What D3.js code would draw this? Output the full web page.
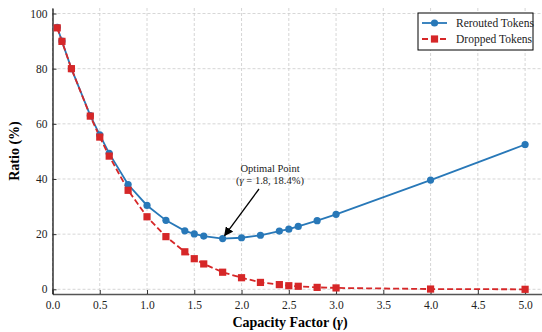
<!DOCTYPE html>
<html><head><meta charset="utf-8">
<script src="https://cdn.jsdelivr.net/npm/d3@7"></script>
<style>body{margin:0;background:#fff;}svg{display:block;} text{font-family:"Liberation Serif","Times New Roman",serif;}</style>
</head><body>
<svg id="c" width="542" height="332"></svg>
<script>
const capacity = [0.05,0.1,0.2,0.4,0.5,0.6,0.8,1.0,1.2,1.4,1.5,1.6,1.8,2.0,2.2,2.4,2.5,2.6,2.8,3.0,4.0,5.0];
const rerouted = [95,90,80,63,56,49.3,38.0,30.4,25.0,21.2,20.1,19.3,18.4,18.7,19.6,21.1,21.8,22.8,24.9,27.2,39.6,52.5];
const dropped  = [94.8,89.9,80,62.8,55.2,48.3,35.9,26.3,19.1,13.6,11.1,9.2,6.2,4.2,2.5,1.7,1.3,1.1,0.7,0.5,0.1,0.0];
const xTicks = [0,0.5,1,1.5,2,2.5,3,3.5,4,4.5,5];
const yTicks = [0,20,40,60,80,100];
const seriesNames = ["Rerouted Tokens","Dropped Tokens"];

const svg = d3.select("#c");
const font = '"Liberation Serif","Times New Roman",serif';
const L=52.5, R=544, T=8, B=294;
const x = d3.scaleLinear().domain([0,5.2]).range([L,R]);
const y = d3.scaleLinear().domain([-1.7,102]).range([B,T]);
const blue="#2878b8", red="#d62728";

// grid
const g = svg.append("g");
g.selectAll(".gx").data(xTicks).join("line")
  .attr("x1",d=>x(d)).attr("x2",d=>x(d)).attr("y1",T).attr("y2",B)
  .attr("stroke","#cccccc").attr("stroke-width",0.8).attr("stroke-dasharray","3,2");
g.selectAll(".gy").data(yTicks).join("line")
  .attr("x1",L).attr("x2",R).attr("y1",d=>y(d)).attr("y2",d=>y(d))
  .attr("stroke","#cccccc").attr("stroke-width",0.8).attr("stroke-dasharray","3,2");

// axes
const xa = svg.append("g").attr("transform",`translate(0,${B})`)
  .call(d3.axisBottom(x).tickValues(xTicks).tickFormat(d3.format(".1f")).tickSizeInner(-4).tickSizeOuter(0).tickPadding(7));
xa.select(".domain").attr("stroke","#555").attr("stroke-width",1.6);
const ya = svg.append("g").attr("transform",`translate(${L},0)`)
  .call(d3.axisLeft(y).tickValues(yTicks).tickSizeInner(-4).tickSizeOuter(0).tickPadding(5));
ya.select(".domain").attr("stroke","#000").attr("stroke-width",1.2);
svg.selectAll("g").attr("font-family",null);
svg.selectAll(".tick text").style("font-family",font).style("font-size","11.5px").attr("fill","#222");
svg.selectAll(".tick line").attr("stroke","#333");

// lines
const line = (vals)=>d3.line().x((d,i)=>x(capacity[i])).y(d=>y(d))(vals);
svg.append("path").attr("d",line(rerouted)).attr("fill","none").attr("stroke",blue).attr("stroke-width",1.8);
svg.append("path").attr("d",line(dropped)).attr("fill","none").attr("stroke",red).attr("stroke-width",1.8).attr("stroke-dasharray","6,3");
svg.selectAll(".pb").data(rerouted).join("circle")
  .attr("cx",(d,i)=>x(capacity[i])).attr("cy",d=>y(d)).attr("r",3.6).attr("fill",blue);
svg.selectAll(".pr").data(dropped).join("rect")
  .attr("x",(d,i)=>x(capacity[i])-3.6).attr("y",d=>y(d)-3.6).attr("width",7.2).attr("height",7.2).attr("fill",red);

// annotation
const optX = 1.8, optY = 18.4;
const ann = svg.append("g").style("font-family",font).style("font-size","10.5px").attr("fill","#222").attr("text-anchor","middle");
ann.append("text").attr("x",270).attr("y",172).text("Optimal Point");
const t2 = ann.append("text").attr("x",270).attr("y",184);
t2.append("tspan").text("(");
t2.append("tspan").attr("font-style","italic").text("γ");
t2.append("tspan").text(" = 1.8, 18.4%)");
svg.append("defs").append("marker").attr("id","ah").attr("viewBox","0 0 10 10").attr("refX",9).attr("refY",5)
  .attr("markerWidth",7).attr("markerHeight",7).attr("orient","auto-start-reverse")
  .append("path").attr("d","M0,0 L10,5 L0,10 z").attr("fill","#000");
const tx = 259, ty = 189;
const hx = x(optX)+2, hy = y(optY)-3;
svg.append("line").attr("x1",tx).attr("y1",ty).attr("x2",hx).attr("y2",hy)
  .attr("stroke","#000").attr("stroke-width",1.3).attr("marker-end","url(#ah)");

// axis labels
svg.append("text").attr("x",290).attr("y",327).attr("text-anchor","middle")
  .style("font-family",font).style("font-size","14px").attr("font-weight","bold")
  .call(t=>{t.append("tspan").text("Capacity Factor (");t.append("tspan").attr("font-style","italic").text("γ");t.append("tspan").text(")");});
svg.append("text").attr("transform","translate(19,151) rotate(-90)").attr("text-anchor","middle")
  .style("font-family",font).style("font-size","14px").attr("font-weight","bold").text("Ratio (%)");

// legend
const lg = svg.append("g").attr("transform","translate(418,13)");
lg.append("rect").attr("x",0).attr("y",0).attr("width",115).attr("height",37).attr("fill","#fff").attr("stroke","#000").attr("stroke-width",1);
seriesNames.forEach((n,i)=>{
  const yy = 10 + i*16;
  const c = i===0?blue:red;
  lg.append("line").attr("x1",4).attr("x2",29).attr("y1",yy).attr("y2",yy).attr("stroke",c).attr("stroke-width",1.8)
    .attr("stroke-dasharray",i===0?null:"6,3");
  if(i===0) lg.append("circle").attr("cx",16.5).attr("cy",yy).attr("r",3.6).attr("fill",c);
  else lg.append("rect").attr("x",12.9).attr("y",yy-3.6).attr("width",7.2).attr("height",7.2).attr("fill",c);
  lg.append("text").attr("x",38).attr("y",yy+4).style("font-family",font).style("font-size","11.5px").attr("fill","#222").text(n);
});
</script>
</body></html>
